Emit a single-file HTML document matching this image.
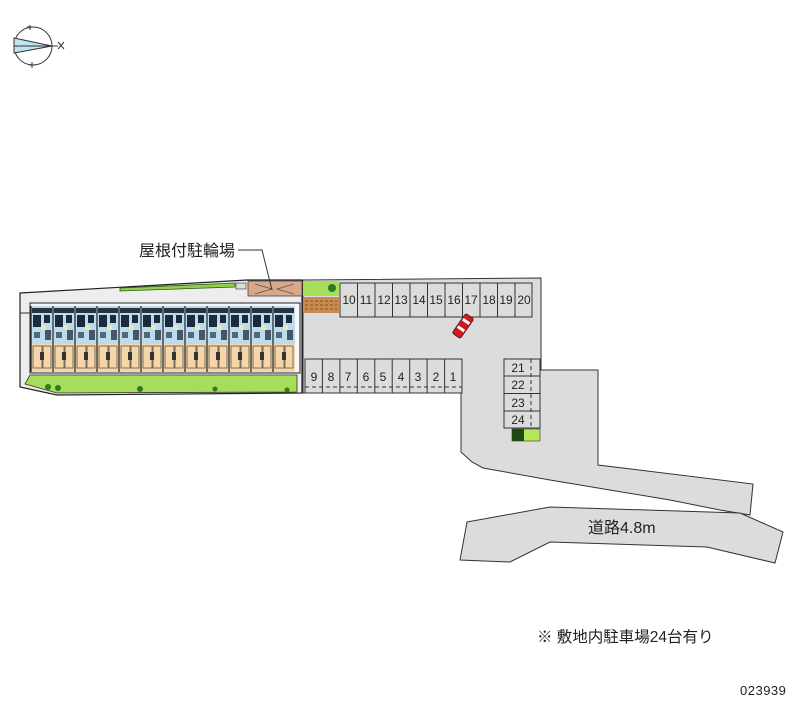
<!DOCTYPE html>
<html><head><meta charset="utf-8"><style>
html,body{margin:0;padding:0;background:#fff;}
svg{display:block;font-family:"Liberation Sans","Noto Sans CJK JP",sans-serif;}
</style></head><body>
<svg width="800" height="727" viewBox="0 0 800 727" xmlns="http://www.w3.org/2000/svg">
<defs>
<g id="unit">
  <rect x="0" y="0" width="22" height="38" fill="#b9dcf0"/>
  <rect x="1" y="2" width="20" height="5" fill="#2a3440"/>
  <rect x="2" y="9" width="8" height="12" fill="#1d2a3a"/>
  <rect x="13" y="9" width="6" height="8" fill="#1d2a3a"/>
  <rect x="10" y="19" width="5" height="5" fill="#f2e6b0"/>
  <rect x="3" y="26" width="6" height="6" fill="#2a3440" opacity="0.7"/>
  <rect x="14" y="24" width="6" height="10" fill="#2a3440" opacity="0.8"/>
  <rect x="0" y="38" width="22" height="28" fill="#f6d6a6"/>
  <rect x="2" y="40" width="9" height="22" fill="none" stroke="#555" stroke-width="0.8"/>
  <rect x="12" y="40" width="8" height="22" fill="none" stroke="#555" stroke-width="0.8"/>
  <rect x="9" y="46" width="4" height="8" fill="#333"/>
  <line x1="0" y1="0" x2="0" y2="66" stroke="#222" stroke-width="1.2"/>
</g>
</defs>

<!-- compass -->
<g stroke="#333" stroke-width="1" fill="none">
  <circle cx="33" cy="46" r="19"/>
  <line x1="30" y1="25" x2="30" y2="30"/><line x1="27" y1="27" x2="33" y2="27"/>
  <line x1="32" y1="62" x2="32" y2="68"/><line x1="29" y1="65" x2="35" y2="65"/>
  <polygon points="14,38 52,46 14,53" fill="#bfe3f0"/>
  <line x1="14" y1="46" x2="58" y2="46"/>
  <line x1="58" y1="42" x2="64" y2="49"/><line x1="64" y1="42" x2="58" y2="49"/>
</g>

<!-- exit road / lot -->
<polygon points="541,278 541,370 598,370 598,465 753,484 750,515 720,510 670,500 550,480 483,468 472,462 461,452 461,393 303,393 303,280" fill="#dcdcdc" stroke="#333" stroke-width="1"/>
<!-- street -->
<polygon points="467,522 550,507 740,513 783,532 775,563 707,547 550,542 510,562 460,560" fill="#dcdcdc" stroke="#333" stroke-width="1"/>
<text x="588" y="533" font-size="16" fill="#222">道路4.8m</text>

<!-- building site -->
<polygon points="20,293 247,280 302,280 302,393 57,395 20,387" fill="#ededed" stroke="#222" stroke-width="1.2"/>
<polygon points="120,288 235,283 235,287 120,291" fill="#8fd04a" stroke="#2a5a10" stroke-width="0.8"/>
<rect x="236" y="283" width="10" height="6" fill="#ddd" stroke="#333" stroke-width="0.6"/>
<polygon points="25,384 30,375 297,375 297,392 57,393" fill="#a6dd5a" stroke="#333" stroke-width="0.8"/>
<g fill="#2f7a1c"><circle cx="48" cy="387" r="3"/><circle cx="58" cy="388" r="3"/><circle cx="140" cy="389" r="3"/><circle cx="215" cy="389" r="2.5"/><circle cx="287" cy="390" r="2.5"/></g>
<rect x="30" y="303" width="270" height="70" fill="#f7f7f7" stroke="#222" stroke-width="1"/>
<g>
  <use href="#unit" x="31" y="306"/><use href="#unit" x="53" y="306"/><use href="#unit" x="75" y="306"/>
  <use href="#unit" x="97" y="306"/><use href="#unit" x="119" y="306"/><use href="#unit" x="141" y="306"/>
  <use href="#unit" x="163" y="306"/><use href="#unit" x="185" y="306"/><use href="#unit" x="207" y="306"/>
  <use href="#unit" x="229" y="306"/><use href="#unit" x="251" y="306"/><use href="#unit" x="273" y="306"/>
</g>
<line x1="20" y1="313" x2="30" y2="313" stroke="#333"/>

<!-- bicycle parking -->
<rect x="248" y="281" width="54" height="15" fill="#d9a88a" stroke="#444" stroke-width="0.8"/>
<path d="M255,284 L272,289 L255,294 M294,284 L277,289 L294,294" stroke="#555" fill="none" stroke-width="0.8"/>
<rect x="303" y="281" width="36" height="15" fill="#a6dd5a"/>
<circle cx="332" cy="288" r="4" fill="#2f7a1c"/>
<rect x="303" y="297" width="36" height="16" fill="#c98a50"/>
<path d="M305,301h32M305,305h32M305,309h32" stroke="#8a5020" stroke-dasharray="3,2"/>

<!-- top spaces 10-20 -->
<rect x="340" y="283" width="192" height="34" stroke="#333" stroke-width="1" fill="#dcdcdc"/>
<g stroke="#333" stroke-width="1">
  <line x1="357.5" y1="283" x2="357.5" y2="317"/><line x1="375" y1="283" x2="375" y2="317"/>
  <line x1="392.5" y1="283" x2="392.5" y2="317"/><line x1="410" y1="283" x2="410" y2="317"/>
  <line x1="427.5" y1="283" x2="427.5" y2="317"/><line x1="445" y1="283" x2="445" y2="317"/>
  <line x1="462.5" y1="283" x2="462.5" y2="317"/><line x1="480" y1="283" x2="480" y2="317"/>
  <line x1="497.5" y1="283" x2="497.5" y2="317"/><line x1="515" y1="283" x2="515" y2="317"/>
</g>
<g font-size="12" fill="#222" text-anchor="middle">
  <text x="349" y="304">10</text><text x="366" y="304">11</text><text x="384" y="304">12</text>
  <text x="401" y="304">13</text><text x="419" y="304">14</text><text x="436" y="304">15</text>
  <text x="454" y="304">16</text><text x="471" y="304">17</text><text x="489" y="304">18</text>
  <text x="506" y="304">19</text><text x="524" y="304">20</text>
</g>

<!-- bottom spaces 9-1 -->
<rect x="305" y="359" width="157" height="34" fill="#dcdcdc" stroke="#333"/>
<line x1="305" y1="387" x2="462" y2="387" stroke="#333" stroke-dasharray="4,3"/>
<g stroke="#333">
  <line x1="322.4" y1="359" x2="322.4" y2="393"/><line x1="339.9" y1="359" x2="339.9" y2="393"/>
  <line x1="357.3" y1="359" x2="357.3" y2="393"/><line x1="374.8" y1="359" x2="374.8" y2="393"/>
  <line x1="392.2" y1="359" x2="392.2" y2="393"/><line x1="409.7" y1="359" x2="409.7" y2="393"/>
  <line x1="427.1" y1="359" x2="427.1" y2="393"/><line x1="444.6" y1="359" x2="444.6" y2="393"/>
</g>
<g font-size="12" fill="#222" text-anchor="middle">
  <text x="314" y="381">9</text><text x="331" y="381">8</text><text x="348" y="381">7</text>
  <text x="366" y="381">6</text><text x="383" y="381">5</text><text x="401" y="381">4</text>
  <text x="418" y="381">3</text><text x="436" y="381">2</text><text x="453" y="381">1</text>
</g>

<!-- spaces 21-24 -->
<rect x="504" y="359" width="36" height="69" fill="#dcdcdc" stroke="#333"/>
<g stroke="#333"><line x1="504" y1="376" x2="540" y2="376"/><line x1="504" y1="393.5" x2="540" y2="393.5"/><line x1="504" y1="411" x2="540" y2="411"/></g>
<line x1="531" y1="359" x2="531" y2="428" stroke="#333" stroke-dasharray="4,3"/>
<g font-size="12" fill="#222" text-anchor="middle">
  <text x="518" y="372">21</text><text x="518" y="389">22</text><text x="518" y="407">23</text><text x="518" y="424">24</text>
</g>
<rect x="512" y="429" width="28" height="12" fill="#b6e65a" stroke="#333" stroke-width="0.6"/>
<rect x="512" y="429" width="12" height="12" fill="#1d4a10"/>

<!-- car -->
<g transform="translate(463,326) rotate(-55)">
  <rect x="-12" y="-5" width="24" height="10" rx="2" fill="#d81818" stroke="#222" stroke-width="0.8"/>
  <rect x="-5" y="-4" width="3" height="8" fill="#fff"/><rect x="4" y="-4" width="3" height="8" fill="#fff"/>
</g>

<!-- label -->
<text x="139" y="256" font-size="16" fill="#222">屋根付駐輪場</text>
<polyline points="238,250 262,250 272,290" fill="none" stroke="#333" stroke-width="1"/>

<text x="537" y="642" font-size="15.5" fill="#222">※ 敷地内駐車場24台有り</text>
<text x="740" y="695" font-size="13" fill="#222" letter-spacing="0.5">023939</text>
</svg>
</body></html>
